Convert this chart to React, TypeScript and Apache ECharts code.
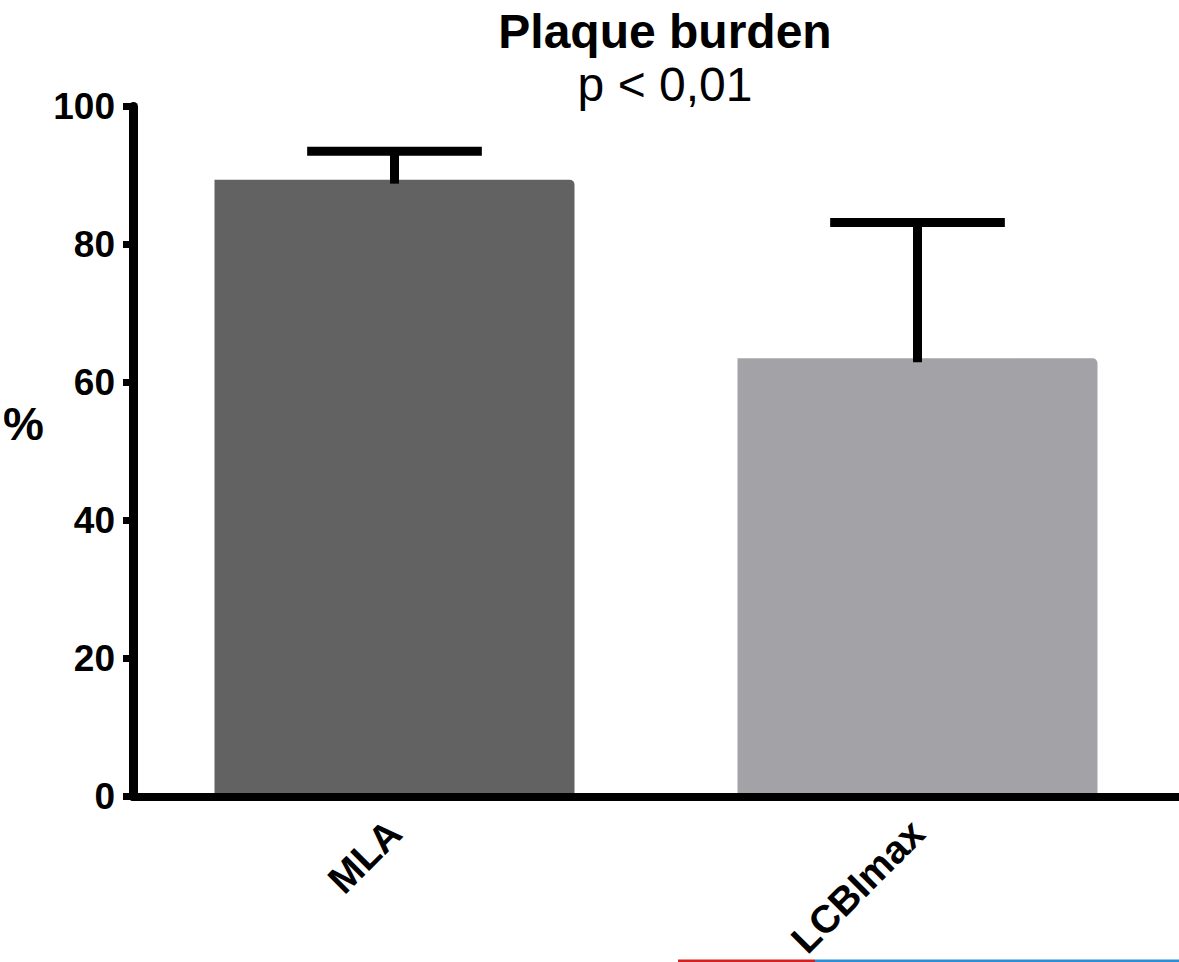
import React, { useEffect, useRef } from "react";
import * as echarts from "echarts";

const categories = ["MLA", "LCBImax"];
const meanValues = [89.4, 63.5];
const upperErrors = [93.5, 83.2];
const barColors = ["#626262", "#a3a2a6"];
const yTicks = { min: 0, max: 100, interval: 20 };

const FONT = "'Liberation Sans', Arial, Helvetica, sans-serif";

export default function App() {
  const ref = useRef<HTMLDivElement>(null);
  useEffect(() => {
    if (!ref.current) return;
    const chart = echarts.init(ref.current, undefined, { renderer: "svg" });
    const option: any = {
      animation: false,
      backgroundColor: "#ffffff",
      title: {
        text: "Plaque burden",
        subtext: "p < 0,01",
        left: 660,
        top: 1,
        textAlign: "center",
        itemGap: 3,
        textStyle: { fontFamily: FONT, fontSize: 48, fontWeight: "bold", color: "#000", lineHeight: 50 },
        subtextStyle: { fontFamily: FONT, fontSize: 48, fontWeight: "normal", color: "#000", lineHeight: 50 },
      },
      grid: { left: 133, top: 106.5, width: 1054, height: 703.5, containLabel: false },
      xAxis: {
        type: "category",
        data: categories,
        z: 10,
        axisLine: { lineStyle: { color: "#000", width: 8 } },
        axisTick: { alignWithLabel: true, length: 13, lineStyle: { color: "#000", width: 9 } },
        axisLabel: {
          rotate: 45,
          margin: 30,
          fontFamily: FONT,
          fontSize: 39,
          fontWeight: "bold",
          color: "#000",
        },
        splitLine: { show: false },
      },
      yAxis: {
        type: "value",
        min: yTicks.min,
        max: yTicks.max,
        interval: yTicks.interval,
        z: 10,
        name: "%",
        nameLocation: "middle",
        nameRotate: 0,
        nameGap: 89,
        nameTextStyle: {
          fontFamily: FONT,
          fontSize: 46,
          fontWeight: "bold",
          color: "#000",
          verticalAlign: "bottom",
          lineHeight: 56,
        },
        axisLine: { show: true, lineStyle: { color: "#000", width: 9 } },
        axisTick: { show: true, length: 10, lineStyle: { color: "#000", width: 7 } },
        axisLabel: { margin: 18, fontFamily: FONT, fontSize: 37, fontWeight: "bold", color: "#000" },
        splitLine: { show: false },
      },
      series: [
        {
          type: "bar",
          data: meanValues.map((v, i) => ({ value: v, itemStyle: { color: barColors[i] } })),
          barWidth: 360,
          itemStyle: { borderRadius: [0, 5, 0, 0] },
          z: 2,
        },
        {
          type: "custom",
          z: 5,
          data: categories.map((_, i) => [i, meanValues[i], upperErrors[i]]),
          renderItem: (params: any, api: any) => {
            const top = api.coord([api.value(0), api.value(2)]);
            const base = api.coord([api.value(0), api.value(1)]);
            const half = api.size([1, 0])[0] * 0.167;
            const style = { stroke: "#000", lineWidth: 9, lineCap: "butt" };
            return {
              type: "group",
              children: [
                { type: "line", shape: { x1: top[0], y1: top[1], x2: base[0], y2: base[1] + 4 }, style },
                { type: "line", shape: { x1: top[0] - half, y1: top[1], x2: top[0] + half, y2: top[1] }, style },
              ],
            };
          },
        },
      ],
      graphic: [
        { type: "line", shape: { x1: 678, y1: 961, x2: 815, y2: 961 }, style: { stroke: "#d42020", lineWidth: 3 } },
        { type: "line", shape: { x1: 815, y1: 961, x2: 1179, y2: 961 }, style: { stroke: "#2a8fd6", lineWidth: 3 } },
      ],
    };
    chart.setOption(option);
    return () => chart.dispose();
  }, []);
  return (
    <div
      ref={ref}
      style={{ position: "absolute", left: 0, top: 0, width: 1179, height: 962 }}
    />
  );
}
